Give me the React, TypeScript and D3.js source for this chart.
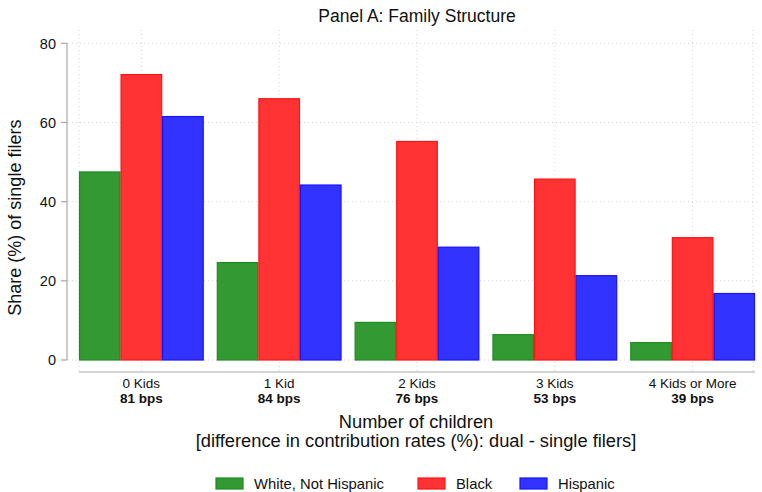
import React from "react";
import * as d3 from "d3";

const categories = ["0 Kids", "1 Kid", "2 Kids", "3 Kids", "4 Kids or More"];
const bpsLabels = ["81 bps", "84 bps", "76 bps", "53 bps", "39 bps"];
const seriesNames = ["White, Not Hispanic", "Black", "Hispanic"];
const whiteVals = [47.5, 24.6, 9.5, 6.4, 4.4];
const blackVals = [72.1, 66.0, 55.2, 45.7, 30.9];
const hispanicVals = [61.5, 44.2, 28.5, 21.3, 16.8];
const yTicks = [0, 20, 40, 60, 80];

const fills = ["#339933", "#ff3333", "#3333ff"];
const strokes = ["#1e8c1e", "#ff1414", "#1414ff"];

const W = 762;
const H = 492;
const FONT = "'Liberation Sans', Arial, Helvetica, sans-serif";

export default function App() {
  const seriesVals = [whiteVals, blackVals, hispanicVals];
  const plotLeft = 79;
  const plotRight = 755;
  const y = d3.scaleLinear().domain([0, 80]).range([360, 43.3]);
  const x0 = d3
    .scaleBand<string>()
    .domain(categories)
    .range([plotLeft, plotRight])
    .paddingInner(0.095)
    .paddingOuter(0);
  const x1 = d3
    .scaleBand<string>()
    .domain(seriesNames)
    .range([0, x0.bandwidth()])
    .padding(0);

  const xAxisY = 372;
  const gridTop = 30;
  const vGrid = [plotLeft, ...categories.map((c) => (x0(c) as number) + x0.bandwidth() / 2), 753];

  return (
    <svg width={W} height={H} style={{ position: "absolute", left: 0, top: 0, background: "#fff" }} fontFamily={FONT}>
      <rect x={0} y={0} width={W} height={H} fill="#fff" />
      <text x={417} y={22} textAnchor="middle" fontSize={17.5} fill="#111">
        Panel A: Family Structure
      </text>
      {yTicks.map((t) => (
        <line
          key={"h" + t}
          x1={68}
          x2={758}
          y1={y(t)}
          y2={y(t)}
          stroke="#d4d4d4"
          strokeWidth={1}
          strokeDasharray="1,3"
        />
      ))}
      {vGrid.map((gx, i) => (
        <line
          key={"v" + i}
          x1={gx}
          x2={gx}
          y1={gridTop}
          y2={xAxisY}
          stroke="#d4d4d4"
          strokeWidth={1}
          strokeDasharray="1,3"
        />
      ))}
      {categories.map((c, ci) => (
        <g key={c} transform={`translate(${x0(c)},0)`}>
          {seriesNames.map((s, si) => {
            const v = seriesVals[si][ci];
            const bx = x1(s) as number;
            return (
              <rect
                key={s}
                x={bx + 0.5}
                y={y(v)}
                width={x1.bandwidth() - 1}
                height={y(0) - y(v)}
                fill={fills[si]}
                stroke={strokes[si]}
                strokeWidth={1.2}
              />
            );
          })}
        </g>
      ))}
      <line x1={67} x2={67} y1={y(80)} y2={y(0)} stroke="#a8a8a8" strokeWidth={1.2} />
      {yTicks.map((t) => (
        <g key={"yt" + t}>
          <line x1={61} x2={67} y1={y(t)} y2={y(t)} stroke="#a8a8a8" strokeWidth={1.2} />
          <text x={56} y={y(t)} dy="0.36em" textAnchor="end" fontSize={14.5} fill="#111">
            {t}
          </text>
        </g>
      ))}
      <text
        transform={`translate(21,${(y(0) + y(80)) / 2 + 16}) rotate(-90)`}
        textAnchor="middle"
        fontSize={18}
        fill="#111"
      >
        Share (%) of single filers
      </text>
      <line x1={plotLeft} x2={plotRight} y1={xAxisY} y2={xAxisY} stroke="#a8a8a8" strokeWidth={1.2} />
      {categories.map((c, ci) => {
        const cx = (x0(c) as number) + x0.bandwidth() / 2;
        return (
          <g key={"xl" + c}>
            <text x={cx} y={388} textAnchor="middle" fontSize={13.5} fill="#111">
              {c}
            </text>
            <text x={cx} y={403} textAnchor="middle" fontSize={13.5} fontWeight="bold" fill="#111">
              {bpsLabels[ci]}
            </text>
          </g>
        );
      })}
      <text x={416} y={428} textAnchor="middle" fontSize={18.3} fill="#111">
        Number of children
      </text>
      <text x={416} y={447} textAnchor="middle" fontSize={18.3} fill="#111">
        [difference in contribution rates (%): dual - single filers]
      </text>
      {[
        { bx: 216, tx: 254 },
        { bx: 418, tx: 456 },
        { bx: 520, tx: 558 },
      ].map((p, i) => (
        <g key={"lg" + i}>
          <rect x={p.bx} y={478} width={27} height={11} fill={fills[i]} stroke={strokes[i]} strokeWidth={1.2} />
          <text x={p.tx} y={489} fontSize={14.8} fill="#111">
            {seriesNames[i]}
          </text>
        </g>
      ))}
    </svg>
  );
}
